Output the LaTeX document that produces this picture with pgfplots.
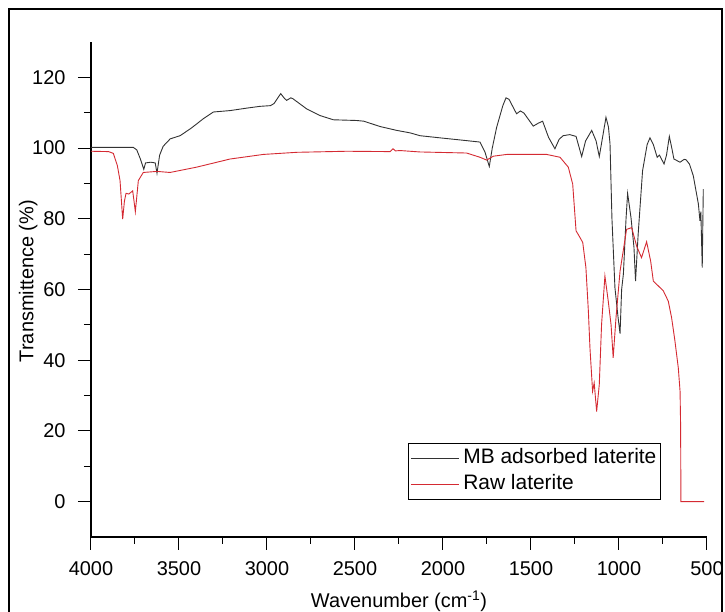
\documentclass[border=0pt]{standalone}
\usepackage{pgfplots}
\pgfplotsset{compat=1.18}
\usepackage{fontspec}
\setmainfont{Liberation Sans}
\definecolor{rawred}{RGB}{212,42,50}
\definecolor{mbgray}{RGB}{50,50,50}

\pgfplotstableread{
wn T
4000 100.2
3760 100.2
3740 99.5
3720 97
3700 94
3690 95.8
3660 96
3635 95.8
3625 92.9
3610 98
3590 100.5
3550 102.6
3494 103.5
3437 105.4
3400 106.8
3362 108.3
3305 110.2
3210 110.6
3115 111.3
3040 111.8
2980 112
2960 112.6
2945 113.7
2922 115.4
2900 114
2888 113.5
2865 114.2
2854 114
2775 111.1
2699 109.2
2623 108
2491 107.8
2450 107.6
2358 106.1
2263 105
2187 104.3
2131 103.5
2000 102.8
1903 102.3
1790 101.7
1761 98.8
1737 94.8
1720 100
1695 105.9
1660 112
1642 114.2
1625 113.8
1582 109.7
1560 110.5
1540 109.9
1487 106.2
1460 107
1434 107.6
1400 103
1364 99.8
1340 102.5
1317 103.5
1280 103.8
1244 103.3
1212 97.6
1190 102
1155 105
1130 102
1112 97.6
1090 104
1074 108.7
1060 106
1051 101.2
1040 80
1023 60.5
1005 52
994 47.5
985 60
975 64.4
960 80
951 87.2
932 80.4
915 72
906 62.4
891 75.7
866 93.6
840 101
824 102.9
805 101
783 97.4
770 98
744 95.5
730 98
714 103.3
700 100
688 96.9
653 96
630 96.8
619 96.7
600 95.5
578 92.2
549 84.2
540 79.4
535 82
527 66.2
521 88.4
}\mbdata

\pgfplotstableread{
wn T
4000 99.1
3900 99
3873 98.5
3850 95
3835 90.8
3820 79.9
3810 85
3801 87.2
3785 87
3763 87.9
3748 82
3731 90.8
3703 93.1
3625 93.4
3551 93.1
3400 94.6
3210 96.9
3021 98.2
2831 98.8
2547 99.1
2300 99
2284 99.8
2270 99.2
2244 99.3
2131 98.9
1866 98.6
1790 97.4
1752 96.6
1714 97.7
1638 98.2
1411 98.2
1335 97.4
1288 94.6
1263 89.8
1244 76.6
1225 75
1206 73.3
1188 66.2
1174 53.9
1165 43.5
1150 31.2
1141 33.6
1127 25.5
1112 33.1
1099 50.1
1080 63.8
1061 56.7
1045 50
1033 40.7
1017 52
994 65.2
976 70.9
957 77
928 77.5
900 72.3
872 69
843 73.5
820 68
805 62.4
748 59.6
720 56.7
701 52
682 45.4
663 37.8
653 31.2
650 21.8
648 0
517 0
}\rawdata

\begin{document}
\begin{tikzpicture}
\useasboundingbox (0bp,0bp) rectangle (725bp,612bp);
% outer frame (open at the bottom, as in the cropped original)
\draw[line width=2bp] (9bp,0bp) -- (9bp,603bp) -- (722bp,603bp) -- (722bp,0bp);
\begin{axis}[
  at={(91bp,75bp)}, anchor=south west,
  width=616bp, height=495bp, scale only axis,
  x dir=reverse,
  xmin=500, xmax=4000, ymin=-10, ymax=130,
  axis x line*=bottom, axis y line*=left,
  axis line style={line width=1.3bp, -},
  tick align=outside,
  tick style={line width=1bp, black},
  major tick length=13bp, minor tick length=7bp,
  xtick={500,1000,...,4000}, minor x tick num=1,
  ytick={0,20,...,120}, minor y tick num=1,
  /pgf/number format/assume math mode=true,
  /pgf/number format/1000 sep={},
  xticklabel style={font=\fontsize{20}{24}\selectfont, yshift=-8bp},
  yticklabel style={font=\fontsize{20}{24}\selectfont, anchor=east, xshift=-9bp},
  label style={font=\fontsize{20}{24}\selectfont},
  xlabel={Wavenumber (cm\textsuperscript{-1})},
  ylabel={Transmittence (\%)},
  xlabel style={at={(axis description cs:0.5,-0.13)}, anchor=center},
  ylabel style={at={(axis description cs:-0.102,0.517)}, anchor=center, rotate=0},
  legend style={at={(axis description cs:0.925,0.0747)}, anchor=south east,
    draw=black, line width=0.8bp, font=\fontsize{21}{24}\selectfont,
    inner xsep=2bp, inner ysep=4bp, row sep=4bp,
    nodes={inner ysep=1bp, text height=15bp, text depth=5bp},
    /tikz/every odd column/.append style={column sep=2bp},
    legend cell align=left},
  legend image code/.code={\draw[#1] (0bp,0bp) -- (48bp,0bp);},
]
\addplot[mbgray, line width=0.9bp] table[x=wn, y=T] {\mbdata};
\addlegendentry{MB adsorbed laterite}
\addplot[rawred, line width=0.9bp] table[x=wn, y=T] {\rawdata};
\addlegendentry{Raw laterite}
\end{axis}
\end{tikzpicture}
\end{document}
